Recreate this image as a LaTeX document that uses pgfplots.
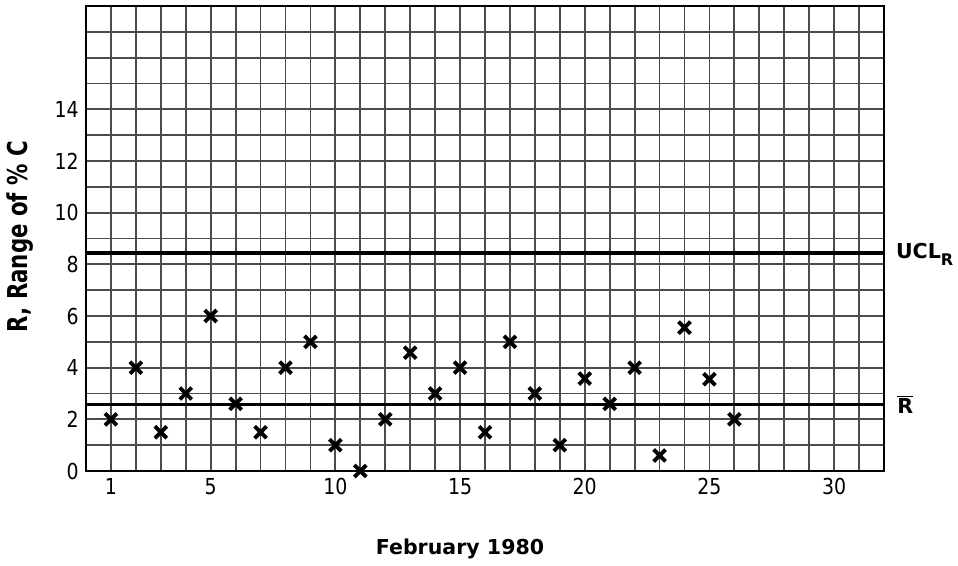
\documentclass[border=0pt]{standalone}
\usepackage{graphicx}
\usepackage{pgfplots}
\pgfplotsset{compat=1.18}
\usepackage{fontspec}
\setmainfont{DejaVu Sans}
\newfontfamily\tickfont{DejaVu Sans}[FakeStretch=0.86]
\begin{document}
\begin{tikzpicture}[x=1pt,y=1pt]
\path[use as bounding box] (-64.5,-70.5) rectangle (654,353.25);
\begin{axis}[
  at={(0,0)}, anchor=south west,
  scale only axis, width=598.5pt, height=348.75pt,
  xmin=0, xmax=32, ymin=0, ymax=18,
  xtick={1,5,10,15,20,25,30}, ytick={0,2,...,14},
  minor xtick={0,...,32}, minor ytick={0,...,18},
  grid=minor,
  minor grid style={black!70, line width=1.35pt},
  major tick length=0pt, minor tick length=0pt,
  axis line style={black, line width=2pt},
  /pgf/number format/assume math mode=true,
  tick label style={font=\tickfont\fontsize{16.5}{16.5}\selectfont},
  xticklabel shift=2pt, yticklabel shift=2pt,
  clip=false,
]
\addplot[black, line width=2.6pt] coordinates {(0,8.43) (32,8.43)};
\addplot[black, line width=2.6pt] coordinates {(0,2.58) (32,2.58)};
\addplot[only marks, mark=x, mark size=6.3pt, mark options={black, line width=2.9pt}] coordinates {
(1,2) (2,4) (3,1.5) (4,3) (5,6) (6,2.6) (7,1.5) (8,4) (9,5) (10,1)
(11,0) (12,2) (13,4.58) (14,3) (15,4) (16,1.5) (17,5) (18,3) (19,1) (20,3.58)
(21,2.6) (22,4) (23,0.6) (24,5.55) (25,3.55) (26,2)
};
\node[anchor=base west, xshift=5.5pt, yshift=-4pt, font=\bfseries\fontsize{15.4}{15.4}\selectfont]
  at (axis cs:32,8.43) {UCL\raisebox{-5.25pt}{\fontsize{12}{12}\selectfont R}};
\node[anchor=base west, xshift=6.5pt, yshift=-6.5pt, font=\bfseries\fontsize{15.4}{15.4}\selectfont]
  at (axis cs:32,2.58) {$\overline{\hbox{\bfseries R}}$};
\node[anchor=base, font=\bfseries\fontsize{15.4}{15.4}\selectfont]
  at (axis description cs:0.4687,-0.1806) {February 1980};
\node[rotate=90, anchor=center, font=\bfseries\fontsize{20.5}{20.5}\selectfont]
  at (axis description cs:-0.0827,0.504) {\scalebox{0.78}[1]{R, Range of \% C}};
\end{axis}
\end{tikzpicture}
\end{document}
